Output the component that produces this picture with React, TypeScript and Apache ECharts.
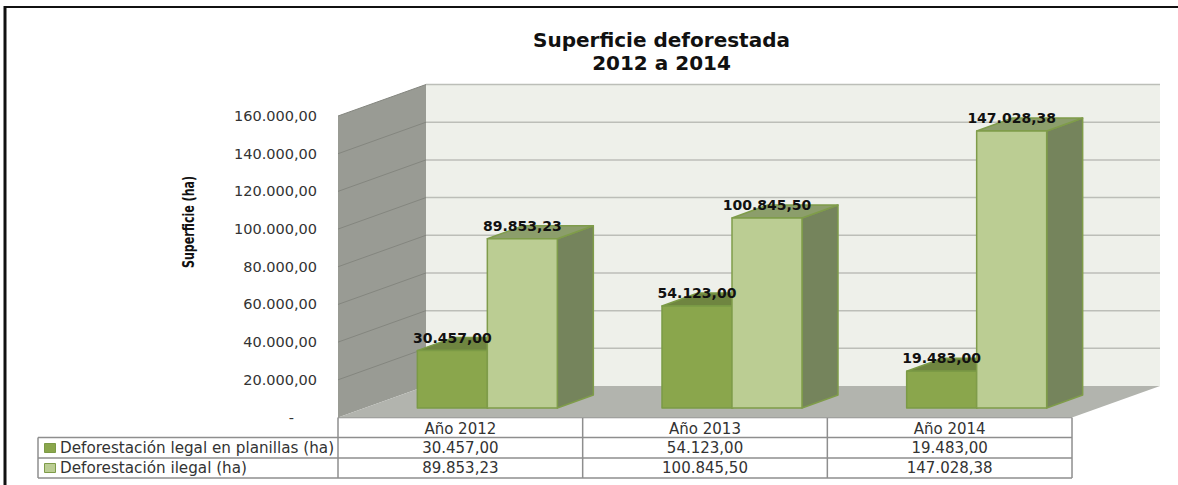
import React, { useEffect, useRef } from "react";
import * as echarts from "echarts";

const categories = ["Año 2012", "Año 2013", "Año 2014"];
const legalName = "Deforestación legal en planillas (ha)";
const illegalName = "Deforestación ilegal (ha)";
const legalValues = [30457.0, 54123.0, 19483.0];
const illegalValues = [89853.23, 100845.5, 147028.38];
const yTicks = [0, 20000, 40000, 60000, 80000, 100000, 120000, 140000, 160000];

const FONT = '"DejaVu Sans", Verdana, sans-serif';
const DEPTH_X = 88;
const DEPTH_Y = 31.5;
const BAR_DX = 36;
const BAR_DY = 13;
const BAR_LIFT = 9.5;
const BAR_W = 70;
const BAND_W = 244.67;

const fmt = (v: number) => {
  const [i, d] = v.toFixed(2).split(".");
  return i.replace(/\B(?=(\d{3})+(?!\d))/g, ".") + "," + d;
};

const colors = {
  legal: { front: "#8aa64c", top: "#6f8540", side: "#6f8540", line: "#7b9a45" },
  illegal: { front: "#bbcd93", top: "#8c9e6b", side: "#75845c", line: "#7f9c4a" },
};

function wallItem(params: any, api: any) {
  const c = params.coordSys;
  const x0 = c.x;
  const x1 = c.x + c.width;
  const bottom = api.coord([0, 0])[1];
  const top = api.coord([0, yTicks[yTicks.length - 1]])[1];
  const children: any[] = [
    { type: "rect", shape: { x: x0 + DEPTH_X, y: top - DEPTH_Y, width: c.width, height: bottom - top }, style: { fill: "#eef0ea" } },
    { type: "polygon", shape: { points: [[x0, top], [x0 + DEPTH_X, top - DEPTH_Y], [x0 + DEPTH_X, bottom - DEPTH_Y], [x0, bottom]] }, style: { fill: "#999b94" } },
    { type: "polygon", shape: { points: [[x0, bottom], [x0 + DEPTH_X, bottom - DEPTH_Y], [x1 + DEPTH_X, bottom - DEPTH_Y], [x1, bottom]] }, style: { fill: "#b2b4ae" } },
  ];
  yTicks.forEach((t) => {
    const y = api.coord([0, t])[1];
    if (t > 0) {
      children.push({ type: "line", shape: { x1: x0 + DEPTH_X, y1: y - DEPTH_Y, x2: x1 + DEPTH_X, y2: y - DEPTH_Y }, style: { stroke: "#bcbeb8", lineWidth: 1.5 } });
      children.push({ type: "line", shape: { x1: x0, y1: y, x2: x0 + DEPTH_X, y2: y - DEPTH_Y }, style: { stroke: "#84867f", lineWidth: 1 } });
    }
  });
  return { type: "group", children };
}

const barItem = (palette: any, shift: number) => (params: any, api: any) => {
  const p = api.coord([api.value(0), api.value(1)]);
  const base = api.coord([api.value(0), 0]);
  const scale = api.size([1, 0])[0] / BAND_W;
  const w = BAR_W * scale;
  const l = p[0] + shift * scale;
  const r = l + w;
  const t = p[1] - BAR_LIFT;
  const b = base[1] - BAR_LIFT;
  const s = { stroke: palette.line, lineWidth: 1.5, lineJoin: "round" };
  return {
    type: "group",
    children: [
      { type: "polygon", shape: { points: [[r, t], [r + BAR_DX, t - BAR_DY], [r + BAR_DX, b - BAR_DY], [r, b]] }, style: { fill: palette.side, ...s } },
      { type: "polygon", shape: { points: [[l, t], [l + BAR_DX, t - BAR_DY], [r + BAR_DX, t - BAR_DY], [r, t]] }, style: { fill: palette.top, ...s } },
      { type: "rect", shape: { x: l, y: t, width: w, height: b - t }, style: { fill: palette.front, ...s } },
    ],
  };
};

const labelItem = (shift: number) => (params: any, api: any) => {
  const p = api.coord([api.value(0), api.value(1)]);
  return {
    type: "text",
    style: {
      text: fmt(api.value(1)),
      x: p[0] + shift + BAR_W / 2,
      y: p[1] - BAR_LIFT - 13,
      align: "center",
      verticalAlign: "middle",
      font: `bold 14px ${FONT}`,
      fill: "#111111",
    },
  };
};

const TABLE = { left: 38, x0: 338, w: 244.67, y0: 417.5, y1: 437.5, y2: 458, y3: 478 };
const tableLine = "#8e8e8e";

function tableGraphics() {
  const { left, x0, w, y0, y1, y2, y3 } = TABLE;
  const xEnd = x0 + w * 3;
  const line = (a: number, b: number, c: number, d: number) => ({
    type: "line",
    shape: { x1: a, y1: b, x2: c, y2: d },
    style: { stroke: tableLine, lineWidth: 1.5 },
  });
  const text = (t: string, x: number, y: number, align = "center", size = 15) => ({
    type: "text",
    x,
    y,
    style: { text: t, font: `${size}px ${FONT}`, fill: "#333333", align, verticalAlign: "middle" },
  });
  const els: any[] = [
    { type: "rect", shape: { x: left, y: y1, width: xEnd - left, height: y3 - y1 }, style: { fill: "#ffffff" } },
    line(x0, y0, xEnd, y0),
    line(left, y1, xEnd, y1),
    line(left, y2, xEnd, y2),
    line(left, y3, xEnd, y3),
    line(left, y1, left, y3),
    line(xEnd, y0, xEnd, y3),
  ];
  for (let i = 0; i < 3; i++) els.push(line(x0 + w * i, y0, x0 + w * i, y3));
  categories.forEach((_, i) => {
    const cx = x0 + w * (i + 0.5);
    els.push(text(fmt(legalValues[i]), cx, (y1 + y2) / 2));
    els.push(text(fmt(illegalValues[i]), cx, (y2 + y3) / 2));
  });
  els.push({ type: "rect", shape: { x: 44.5, y: 443.5, width: 11, height: 9 }, style: { fill: colors.legal.front, stroke: colors.legal.line, lineWidth: 1 } });
  els.push({ type: "rect", shape: { x: 44.5, y: 463.5, width: 11, height: 9 }, style: { fill: colors.illegal.front, stroke: colors.illegal.line, lineWidth: 1 } });
  els.push(text(legalName, 60, (y1 + y2) / 2, "left", 15.2));
  els.push(text(illegalName, 60, (y2 + y3) / 2, "left", 15.2));
  return els;
}

const frame = [
  { type: "line", shape: { x1: 4, y1: 7, x2: 1178, y2: 7 }, style: { stroke: "#111111", lineWidth: 2 } },
  { type: "line", shape: { x1: 5, y1: 6, x2: 5, y2: 485 }, style: { stroke: "#111111", lineWidth: 3 } },
];

export default function App() {
  const ref = useRef<HTMLDivElement>(null);
  useEffect(() => {
    if (!ref.current) return;
    const chart = echarts.init(ref.current, undefined, { renderer: "svg" });
    const pairs = (vals: number[]) => vals.map((v, i) => [i, v]);
    const enc = { x: 0, y: 1 };
    chart.setOption({
      animation: false,
      backgroundColor: "#ffffff",
      title: {
        text: "Superficie deforestada\n2012 a 2014",
        left: 656.5,
        top: 23,
        textAlign: "center",
        textStyle: { fontFamily: FONT, fontSize: 20, fontWeight: "bold", color: "#111111", lineHeight: 23 },
      },
      grid: { left: 338, top: 116, width: 734, height: 301.5 },
      xAxis: {
        type: "category",
        data: categories,
        axisLine: { show: false },
        axisTick: { show: false },
        splitLine: { show: false },
        axisLabel: { margin: 4, fontFamily: FONT, fontSize: 15, color: "#333333" },
      },
      yAxis: {
        type: "value",
        min: 0,
        max: 160000,
        interval: 20000,
        axisLine: { show: false },
        axisTick: { show: false },
        splitLine: { show: false },
        axisLabel: {
          margin: 21,
          fontFamily: FONT,
          fontSize: 14.5,
          color: "#333333",
          formatter: (v: number) => (v === 0 ? "-     " : fmt(v)),
        },
      },
      series: [
        { type: "custom", clip: false, z: 1, renderItem: wallItem, data: [[0, 0]], encode: enc, silent: true },
        { type: "custom", name: legalName, clip: false, z: 2, renderItem: barItem(colors.legal, -43), data: pairs(legalValues), encode: enc },
        { type: "custom", name: illegalName, clip: false, z: 3, renderItem: barItem(colors.illegal, 27), data: pairs(illegalValues), encode: enc },
        { type: "custom", clip: false, z: 4, renderItem: labelItem(-43), data: pairs(legalValues), encode: enc },
        { type: "custom", clip: false, z: 4, renderItem: labelItem(27), data: pairs(illegalValues), encode: enc },
      ],
      graphic: [
        ...tableGraphics(),
        ...frame,
        {
          type: "text",
          x: 188,
          y: 222,
          rotation: Math.PI / 2,
          scaleX: 0.77,
          style: {
            text: "Superficie (ha)",
            font: 'bold 16px "Liberation Sans Narrow", "DejaVu Sans Condensed", sans-serif',
            fill: "#111111",
            align: "center",
            verticalAlign: "middle",
          },
        },
      ],
    });
    return () => chart.dispose();
  }, []);
  return <div ref={ref} style={{ position: "absolute", left: 0, top: 0, width: 1178, height: 485 }} />;
}
